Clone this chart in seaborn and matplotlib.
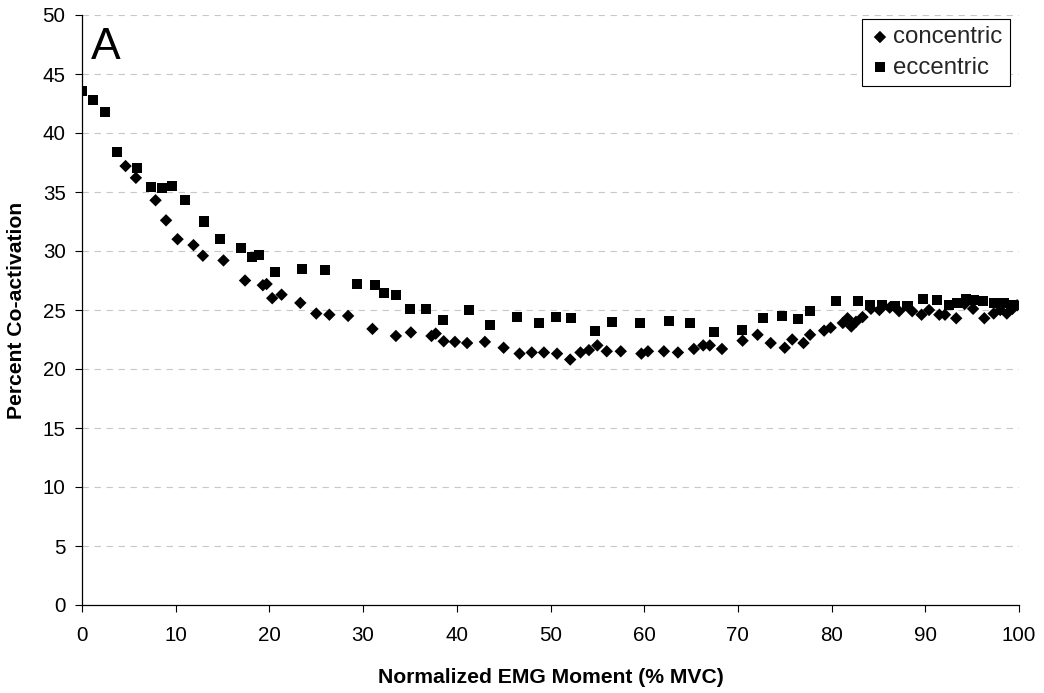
import matplotlib
matplotlib.use("Agg")
import matplotlib.pyplot as plt
import seaborn as sns
import pandas as pd

# ---- data ----
concentric_x = [4.65, 5.75, 7.85, 8.97, 10.2, 11.9, 12.9, 15.1, 17.4, 19.3, 19.7, 20.3, 21.3,
                23.3, 25.0, 26.4, 28.4, 31.0, 33.5, 35.1, 37.3, 37.75, 38.6, 39.8, 41.1, 43.0,
                45.0, 46.7, 48.0, 49.3, 50.7, 52.1, 53.2, 54.1, 55.0, 56.0, 57.5, 59.7, 60.4,
                62.1, 63.6, 65.3, 66.3, 67.0, 68.3, 70.5, 72.1, 73.5, 75.0, 75.8, 77.0, 77.7,
                79.2, 79.9, 81.2, 81.7, 82.1, 82.6, 83.3, 84.2, 85.1, 86.2, 87.2, 88.6, 89.6,
                90.4, 91.5, 92.1, 93.3, 94.2, 95.1, 96.3, 97.3, 98.0, 98.7, 99.3, 99.8]
concentric_y = [37.2, 36.2, 34.3, 32.6, 31.0, 30.5, 29.6, 29.2, 27.5, 27.1, 27.2, 26.0, 26.3,
                25.6, 24.7, 24.6, 24.5, 23.4, 22.8, 23.1, 22.8, 23.0, 22.35, 22.3, 22.2, 22.3,
                21.8, 21.3, 21.4, 21.4, 21.3, 20.8, 21.4, 21.6, 22.0, 21.5, 21.5, 21.3, 21.5,
                21.5, 21.4, 21.7, 22.0, 22.0, 21.7, 22.4, 22.9, 22.2, 21.8, 22.5, 22.2, 22.9,
                23.25, 23.5, 23.9, 24.3, 23.6, 24.0, 24.4, 25.1, 25.0, 25.2, 24.9, 24.9, 24.6,
                25.0, 24.6, 24.6, 24.3, 25.5, 25.1, 24.3, 24.7, 25.0, 24.7, 25.1, 25.4]

eccentric_x = [0.0, 1.2, 2.5, 3.7, 5.9, 7.35, 8.5, 9.6, 11.0, 13.0, 14.75, 17.0, 18.1, 18.9,
               20.6, 23.5, 25.9, 29.3, 31.3, 32.2, 33.5, 35.0, 36.7, 38.5, 41.3, 43.5, 46.4,
               48.8, 50.6, 52.2, 54.7, 56.6, 59.5, 62.6, 64.9, 67.5, 70.4, 72.7, 74.7, 76.4,
               77.7, 80.5, 82.8, 84.1, 85.4, 86.8, 88.1, 89.8, 91.3, 92.5, 93.4, 94.3, 95.2,
               96.2, 97.3, 98.4, 99.4]
eccentric_y = [43.6, 42.8, 41.8, 38.4, 37.0, 35.4, 35.3, 35.5, 34.3, 32.5, 31.0, 30.25, 29.5, 29.7,
               28.2, 28.5, 28.4, 27.2, 27.1, 26.4, 26.3, 25.1, 25.1, 24.15, 25.0, 23.7, 24.4,
               23.9, 24.4, 24.3, 23.2, 24.0, 23.9, 24.1, 23.9, 23.1, 23.3, 24.35, 24.5, 24.2,
               24.9, 25.8, 25.8, 25.4, 25.4, 25.3, 25.3, 25.9, 25.85, 25.4, 25.6, 25.9, 25.85,
               25.8, 25.6, 25.6, 25.4]

x_ticks = [0, 10, 20, 30, 40, 50, 60, 70, 80, 90, 100]
y_ticks = [0, 5, 10, 15, 20, 25, 30, 35, 40, 45, 50]
x_label = "Normalized EMG Moment (% MVC)"
y_label = "Percent Co-activation"
panel_label = "A"

# ---- style ----
sns.set_theme(style="white")
plt.rcParams['font.family'] = ['Liberation Sans', 'DejaVu Sans']

df_con = pd.DataFrame({"x": concentric_x, "y": concentric_y})
df_ecc = pd.DataFrame({"x": eccentric_x, "y": eccentric_y})

fig = plt.figure(figsize=(10.44, 6.93), dpi=100)
ax = fig.add_axes([82 / 1044, 1 - 605 / 693, 937 / 1044, 590 / 693])

sns.scatterplot(data=df_con, x="x", y="y", ax=ax, marker="D", s=40, color="black",
                edgecolor="none", linewidth=0, label="concentric", zorder=3)
sns.scatterplot(data=df_ecc, x="x", y="y", ax=ax, marker="s", s=52, color="black",
                edgecolor="none", linewidth=0, label="eccentric", zorder=3)

ax.set_xlim(0, 100)
ax.set_ylim(0, 50)
ax.set_xticks(x_ticks)
ax.set_yticks(y_ticks)
ax.tick_params(axis="both", which="major", labelsize=14.8, colors="black",
               direction="out", length=4.8, width=0.8, bottom=True, left=True)
ax.tick_params(axis="y", pad=7)
ax.tick_params(axis="x", pad=10.5)

for y in y_ticks[1:]:
    ax.axhline(y, color="#c8c8c8", lw=0.8, ls=(0, (5.8, 5.0)), zorder=1)

for side in ["top", "right"]:
    ax.spines[side].set_visible(False)
for side in ["left", "bottom"]:
    ax.spines[side].set_color("black")
    ax.spines[side].set_linewidth(0.9)

ax.set_xlabel(x_label, fontsize=15.2, fontweight="bold", color="black")
ax.set_ylabel(y_label, fontsize=15.2, fontweight="bold", color="black")
ax.xaxis.set_label_coords(0.5, -0.106)
ax.yaxis.set_label_coords(-0.060, 0.5)

ax.text(0.010, 0.925, panel_label, transform=ax.transAxes, fontsize=32,
        ha="left", va="baseline", color="black")

leg = ax.legend(loc="upper right", bbox_to_anchor=(0.990, 0.993), borderaxespad=0,
                fontsize=17.3, frameon=True, fancybox=False, shadow=False,
                handletextpad=0.1, handlelength=0.9, borderpad=0.3, labelspacing=0.35,
                markerscale=1.0)
leg.get_frame().set_edgecolor("black")
leg.get_frame().set_linewidth(0.8)
leg.get_frame().set_facecolor("white")
leg.get_frame().set_alpha(1)

fig.savefig("out.png", dpi=100)
